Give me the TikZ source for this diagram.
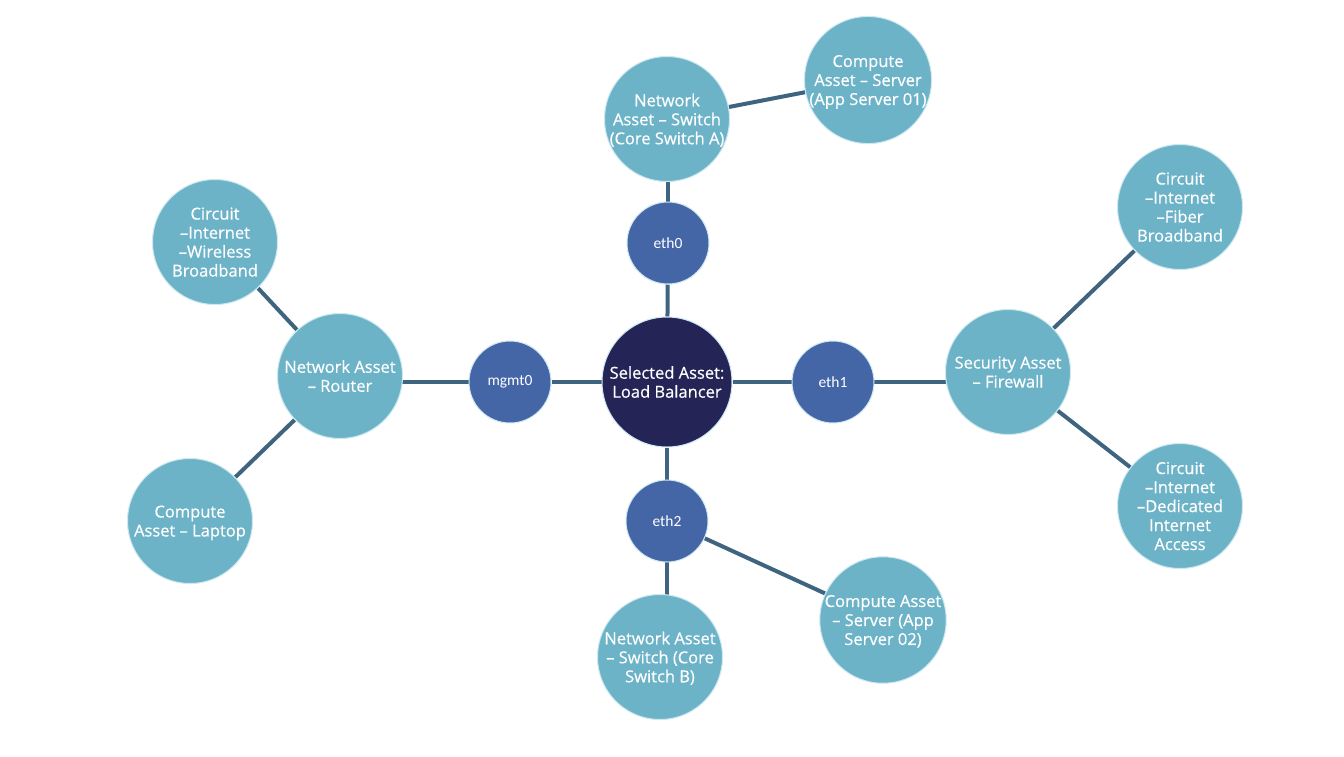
\documentclass[tikz,border=0pt]{standalone}
\usepackage{fontspec}
\setmainfont{Open Sans}
\newfontfamily\assetfont{Open Sans}[Ligatures=TeX,FakeBold=0.5]
\newfontfamily\portfont{Carlito}
\usepackage{xcolor}
\usepackage{tikz}
\usetikzlibrary{backgrounds}
\definecolor{assetteal}{RGB}{108,179,200}
\definecolor{assetnavy}{RGB}{36,36,86}
\definecolor{portblue}{RGB}{68,101,166}
\definecolor{linkgray}{RGB}{62,100,128}
\definecolor{rimlight}{RGB}{205,232,240}

\begin{document}
\begin{tikzpicture}[
    x=1pt,y=-1pt,
    asset/.style={circle,draw=rimlight,line width=1pt,fill=assetteal,text=white,
                  minimum size=125pt,inner sep=0pt,align=center,text depth=-4pt,
                  font=\assetfont\fontsize{16.5}{19}\selectfont},
    selected/.style={circle,draw=rimlight,line width=1pt,fill=assetnavy,text=white,
                  minimum size=130pt,inner sep=0pt,align=center,
                  font=\assetfont\fontsize{16.5}{19}\selectfont},
    port/.style={circle,draw=rimlight,line width=1pt,fill=portblue,text=white,
                 minimum size=82pt,inner sep=0pt,align=center,
                 font=\portfont\fontsize{15.5}{17}\selectfont},
    link/.style={line width=4pt,linkgray}
  ]
  \useasboundingbox (0,0) rectangle (1344,756);

  % centre and its ports
  \node[selected] (lb) at (667,382) {Selected Asset:\\Load Balancer};
  \node[port] (eth0) at (668,243) {eth0};
  \node[port] (eth1) at (833,382) {eth1};
  \node[port] (eth2) at (667,521) {eth2};
  \node[port] (mgmt0) at (510,382) {mgmt0};

  % connected assets
  \node[asset] (swa) at (667,119) {Network\\Asset -- Switch\\(Core Switch A)};
  \node[asset] (srv1) at (868,80) {Compute\\Asset -- Server\\(App Server 01)};
  \node[asset] (fw) at (1008,372) {Security Asset\\-- Firewall};
  \node[asset] (fiber) at (1180,207) {Circuit\\--Internet\\--Fiber\\Broadband};
  \node[asset] (dia) at (1180,506) {Circuit\\--Internet\\--Dedicated\\Internet\\Access};
  \node[asset] (swb) at (660,657) {Network Asset\\-- Switch (Core\\Switch B)};
  \node[asset] (srv2) at (883,620) {Compute Asset\\-- Server (App\\Server 02)};
  \node[asset] (rtr) at (340,376) {Network Asset\\-- Router};
  \node[asset] (wifi) at (215,242) {Circuit\\--Internet\\--Wireless\\Broadband};
  \node[asset] (lap) at (190,521) {Compute\\Asset -- Laptop};

  \begin{scope}[on background layer]
    \draw[link] (lb) -- (eth0);
    \draw[link] (eth0.center) -- (eth0.center |- swa.center);
    \draw[link] (swa) -- (srv1);
    \draw[link] (lb) -- (eth1);
    \draw[link] (eth1.center) -- (fw.center |- eth1.center);
    \draw[link] (fw) -- (fiber);
    \draw[link] (fw) -- (dia);
    \draw[link] (lb) -- (eth2);
    \draw[link] (eth2.center) -- (eth2.center |- swb.center);
    \draw[link] (eth2) -- (srv2);
    \draw[link] (lb) -- (mgmt0);
    \draw[link] (mgmt0.center) -- (rtr.center |- mgmt0.center);
    \draw[link] (rtr) -- (wifi);
    \draw[link] (rtr) -- (lap);
  \end{scope}
\end{tikzpicture}
\end{document}
